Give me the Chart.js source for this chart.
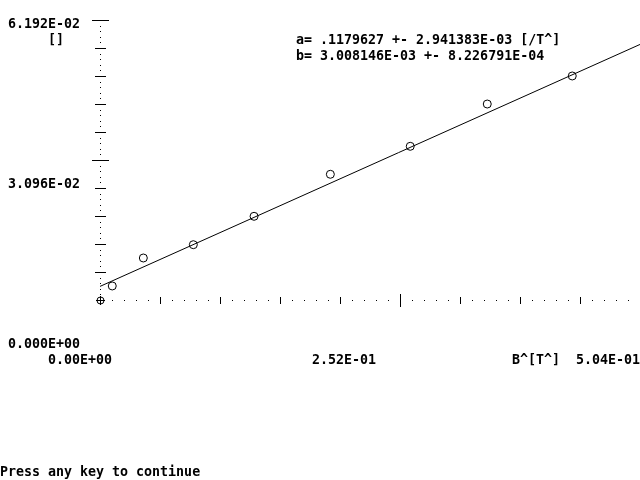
<!DOCTYPE html>
<html>
<head>
<meta charset="utf-8">
<script src="https://cdn.jsdelivr.net/npm/chart.js@4"></script>
<style>
  html, body { margin: 0; padding: 0; background: #fff; overflow: hidden; width: 640px; height: 480px; }
  canvas { display: block; }
</style>
</head>
<body>
<canvas id="c" width="700" height="480"></canvas>
<script>
// ---- data ----
const xValues = [0.0103, 0.0364, 0.0784, 0.1294, 0.1935, 0.2606, 0.3253, 0.3967];
const yValues = [0.00310, 0.00929, 0.01223, 0.01851, 0.02780, 0.03399, 0.04334, 0.04954];
const fitA = 0.1179627;
const fitB = 0.003008146;
const fitX = [0, 0.504];
const fitY = [0.003008146, 0.0624613];
const xMax = 0.504;
const yMax = 0.06192;
const xTickCount = 10;
const yTickCount = 10;
// text-mode labels: [text, column, row]
const labels = [
  ["6.192E-02", 1, 1],
  ["[]", 6, 2],
  ["a= .1179627 +- 2.941383E-03 [/T^]", 37, 2],
  ["b= 3.008146E-03 +- 8.226791E-04", 37, 3],
  ["3.096E-02", 1, 11],
  ["0.000E+00", 1, 21],
  ["0.00E+00", 6, 22],
  ["2.52E-01", 39, 22],
  ["B^[T^]", 64, 22],
  ["5.04E-01", 72, 22],
  ["Press any key to continue", 0, 29]
];

const scatterData = xValues.map((x, i) => ({ x: x, y: yValues[i] }));
const lineData = fitX.map((x, i) => ({ x: x, y: fitY[i] }));

const axesPlugin = {
  id: 'dosAxes',
  afterDraw(chart) {
    const ctx = chart.ctx;
    const xs = chart.scales.x, ys = chart.scales.y;
    const x0 = Math.round(xs.getPixelForValue(0));
    const y0 = Math.round(ys.getPixelForValue(0));
    ctx.save();
    ctx.fillStyle = '#000';
    ctx.strokeStyle = '#000';
    ctx.lineWidth = 1;
    // y axis dots
    const ySub = yTickCount * 5;
    for (let i = 1; i < ySub; i++) {
      const py = Math.round(ys.getPixelForValue(yMax * i / ySub));
      ctx.fillRect(x0, py, 1, 1);
    }
    // y ticks
    for (let i = 1; i <= yTickCount; i++) {
      const py = Math.round(ys.getPixelForValue(yMax * i / yTickCount)) + 0.5;
      const long = (i === yTickCount || i === yTickCount / 2);
      const hw = long ? 8 : 5;
      ctx.beginPath();
      ctx.moveTo(x0 - hw, py);
      ctx.lineTo(x0 + hw + 1, py);
      ctx.stroke();
    }
    // x axis dots
    const xSub = xTickCount * 5;
    for (let i = 1; i < xSub; i++) {
      if (i % 5 === 0) continue;
      const px = Math.round(xs.getPixelForValue(xMax * i / xSub));
      ctx.fillRect(px, y0, 1, 1);
    }
    // x ticks
    for (let i = 1; i <= xTickCount; i++) {
      const px = Math.round(xs.getPixelForValue(xMax * i / xTickCount)) + 0.5;
      const long = (i === xTickCount / 2 || i === xTickCount);
      const hh = long ? 6 : 3;
      ctx.beginPath();
      ctx.moveTo(px, y0 - hh);
      ctx.lineTo(px, y0 + hh + 1);
      ctx.stroke();
    }
    // origin marker
    ctx.beginPath();
    ctx.arc(x0 + 0.5, y0 + 0.5, 3.5, 0, Math.PI * 2);
    ctx.stroke();
    ctx.beginPath();
    ctx.moveTo(x0 - 4, y0 + 0.5); ctx.lineTo(x0 + 5, y0 + 0.5);
    ctx.moveTo(x0 + 0.5, y0 - 4); ctx.lineTo(x0 + 0.5, y0 + 5);
    ctx.stroke();
    // text
    ctx.font = 'bold 13.3px "DejaVu Sans Mono", "Liberation Mono", monospace';
    ctx.textBaseline = 'alphabetic';
    ctx.textAlign = 'left';
    for (const [t, col, row] of labels) {
      ctx.fillText(t, col * 8, row * 16 + 12);
    }
    ctx.restore();
  }
};

new Chart(document.getElementById('c'), {
  type: 'scatter',
  data: {
    datasets: [
      {
        type: 'line',
        data: lineData,
        borderColor: '#000',
        borderWidth: 1,
        pointRadius: 0,
        tension: 0,
        fill: false
      },
      {
        type: 'scatter',
        data: scatterData,
        pointStyle: 'circle',
        pointRadius: 4,
        borderColor: '#000',
        borderWidth: 1,
        backgroundColor: 'rgba(0,0,0,0)'
      }
    ]
  },
  options: {
    responsive: false,
    devicePixelRatio: 1,
    animation: false,
    layout: { autoPadding: false, padding: { left: 100, right: 0, top: 20, bottom: 180 } },
    plugins: { legend: { display: false }, tooltip: { enabled: false } },
    scales: {
      x: { type: 'linear', min: 0, max: xMax, display: false },
      y: { type: 'linear', min: 0, max: yMax, display: false }
    }
  },
  plugins: [axesPlugin]
});
</script>
</body>
</html>
